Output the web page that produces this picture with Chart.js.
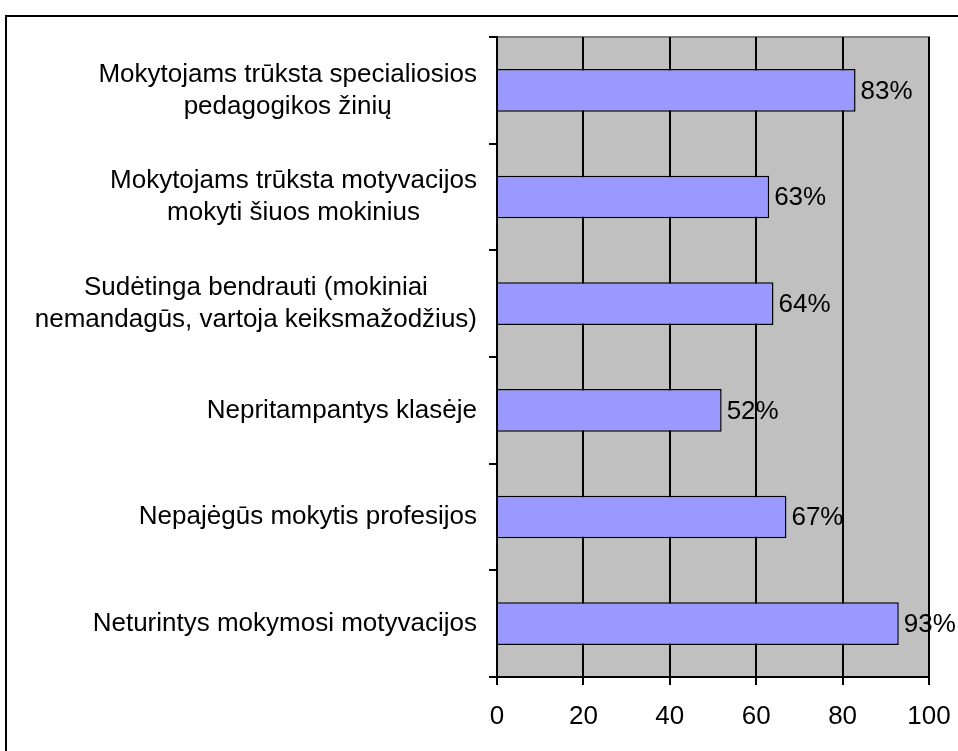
<!DOCTYPE html>
<html lang="lt">
<head>
  <meta charset="UTF-8">
  <title>Mokinių problemos</title>
  <script src="https://cdn.jsdelivr.net/npm/chart.js"></script>
  <style>
    body { margin: 0; background: #fff; }
    .frame {
      position: absolute;
      left: 5px;
      top: 15px;
      width: 1000px;
      height: 800px;
      border-left: 2px solid #000;
      border-top: 2px solid #000;
    }
    #wrap { position: absolute; left: 0; top: 0; width: 958px; height: 751px; }
  </style>
</head>
<body>
  <div class="frame"></div>
  <div id="wrap"><canvas id="grafikas"></canvas></div>

  <script>
    const kategorijos = [
      ['Mokytojams trūksta specialiosios', 'pedagogikos žinių'],
      ['Mokytojams trūksta motyvacijos', 'mokyti šiuos mokinius'],
      ['Sudėtinga bendrauti (mokiniai', 'nemandagūs, vartoja keiksmažodžius)'],
      ['Nepritampantys klasėje'],
      ['Nepajėgūs mokytis profesijos'],
      ['Neturintys mokymosi motyvacijos']
    ];
    const reiksmes = [83, 63, 64, 52, 67, 93];
    const asiesZymes = [0, 20, 40, 60, 80, 100];

    const sriftas = '26px "Liberation Sans", Arial, sans-serif';

    // pilkas fonas ir rėmelis
    const fonas = {
      id: 'fonas',
      beforeDraw(chart) {
        const { ctx, chartArea: a } = chart;
        ctx.save();
        ctx.fillStyle = '#C0C0C0';
        ctx.fillRect(a.left, a.top, a.right - a.left, a.bottom - a.top);
        ctx.strokeStyle = '#808080';
        ctx.lineWidth = 2;
        ctx.beginPath();
        ctx.moveTo(a.left, a.top);
        ctx.lineTo(a.right, a.top);
        ctx.lineTo(a.right, a.bottom);
        ctx.stroke();
        ctx.restore();
      }
    };

    // kategorijų pavadinimai: blokas prie ašies, eilutės centruotos
    const pavadinimai = {
      id: 'pavadinimai',
      afterDraw(chart) {
        const { ctx } = chart;
        const y = chart.scales.y;
        const desine = y.right - 20;
        const eilAukstis = 32;
        ctx.save();
        ctx.font = sriftas;
        ctx.fillStyle = '#000';
        ctx.textAlign = 'center';
        ctx.textBaseline = 'middle';
        kategorijos.forEach((eil, i) => {
          const centras = y.getPixelForTick(i);
          const plotis = Math.max(...eil.map(t => ctx.measureText(t).width));
          const cx = desine - plotis / 2;
          const pradzia = centras - (eil.length - 1) * eilAukstis / 2;
          eil.forEach((t, j) => ctx.fillText(t, cx, pradzia + j * eilAukstis));
        });
        ctx.restore();
      }
    };

    // reikšmės prie stulpelių
    const procentai = {
      id: 'procentai',
      afterDatasetsDraw(chart) {
        const { ctx } = chart;
        const meta = chart.getDatasetMeta(0);
        ctx.save();
        ctx.font = sriftas;
        ctx.fillStyle = '#000';
        ctx.textAlign = 'left';
        ctx.textBaseline = 'middle';
        meta.data.forEach((bar, i) => {
          ctx.fillText(reiksmes[i] + '%', bar.x + 5, bar.y + 1);
        });
        ctx.restore();
      }
    };

    new Chart(document.getElementById('grafikas'), {
      type: 'bar',
      data: {
        labels: kategorijos,
        datasets: [{
          data: reiksmes,
          backgroundColor: '#9999FF',
          borderColor: '#000',
          borderWidth: 1.5,
          barPercentage: 0.4,
          categoryPercentage: 1
        }]
      },
      options: {
        indexAxis: 'y',
        responsive: true,
        maintainAspectRatio: false,
        animation: false,
        layout: { padding: { top: 37, right: 29, left: 0, bottom: 0 } },
        scales: {
          x: {
            min: 0,
            max: 100,
            afterBuildTicks: s => { s.ticks = asiesZymes.map(v => ({ value: v })); },
            afterFit: s => { s.height = 74; s.paddingRight = 0; s.paddingLeft = 0; },
            grid: {
              color: '#000',
              lineWidth: 2,
              tickLength: 8,
              drawOnChartArea: true
            },
            border: { color: '#000', width: 2 },
            ticks: {
              color: '#000',
              padding: 16,
              font: { family: '"Liberation Sans", Arial, sans-serif', size: 26 },
              maxRotation: 0
            }
          },
          y: {
            afterFit: s => { s.width = 497; s.paddingTop = 0; s.paddingBottom = 0; },
            grid: {
              color: '#000',
              lineWidth: 2,
              tickLength: 8,
              drawOnChartArea: false,
              offset: true
            },
            border: { color: '#000', width: 2 },
            ticks: { display: false }
          }
        },
        plugins: {
          legend: { display: false },
          tooltip: { enabled: false }
        }
      },
      plugins: [fonas, pavadinimai, procentai]
    });
  </script>
</body>
</html>
